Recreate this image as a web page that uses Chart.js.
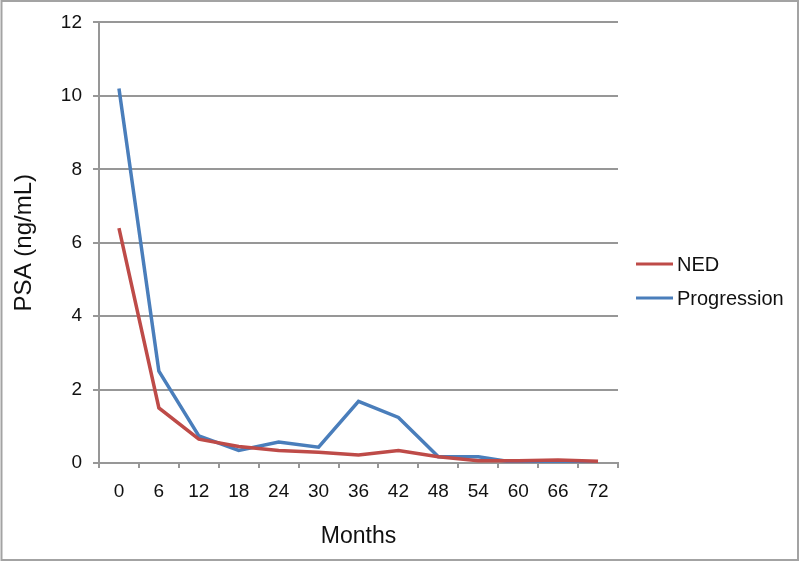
<!DOCTYPE html>
<html>
<head>
<meta charset="utf-8">
<script src="https://cdn.jsdelivr.net/npm/chart.js@4/dist/chart.umd.min.js"></script>
<style>
  html, body { margin: 0; padding: 0; background: #fff; }
  #wrap { width: 800px; height: 562px; }
</style>
</head>
<body>
<div id="wrap"><canvas id="c" width="800" height="562"></canvas></div>
<script>
const months = ['0','6','12','18','24','30','36','42','48','54','60','66','72'];
const nedValues = [6.4, 1.5, 0.65, 0.45, 0.34, 0.29, 0.22, 0.34, 0.17, 0.06, 0.06, 0.08, 0.05];
const progressionValues = [10.2, 2.5, 0.74, 0.34, 0.57, 0.43, 1.68, 1.24, 0.17, 0.17, 0, 0, 0];
const seriesNames = ['NED', 'Progression'];
const yTitle = 'PSA (ng/mL)';
const xTitle = 'Months';

const FONT = "'Liberation Sans', Arial, Helvetica, sans-serif";
Chart.defaults.font.family = FONT;
Chart.defaults.color = '#111';

const frameAndLegend = {
  id: 'frameAndLegend',
  afterDraw(chart) {
    const ctx = chart.ctx;
    ctx.save();
    ctx.strokeStyle = '#a3a3a3';
    ctx.lineWidth = 2;
    ctx.strokeRect(1.5, 1, 796.5, 559);
    const ys = [264, 298];
    ctx.font = '20px ' + FONT;
    ctx.textBaseline = 'middle';
    ctx.textAlign = 'left';
    chart.data.datasets.forEach((ds, i) => {
      ctx.strokeStyle = ds.borderColor;
      ctx.lineWidth = 3;
      ctx.beginPath();
      ctx.moveTo(636, ys[i]);
      ctx.lineTo(673, ys[i]);
      ctx.stroke();
      ctx.fillStyle = '#111';
      ctx.fillText(ds.label, 677, ys[i] + 1);
    });
    ctx.restore();
  }
};

new Chart(document.getElementById('c'), {
  type: 'line',
  data: {
    labels: months,
    datasets: [
      { label: seriesNames[0], data: nedValues, borderColor: '#be4b48', backgroundColor: '#be4b48' },
      { label: seriesNames[1], data: progressionValues, borderColor: '#4a7ebb', backgroundColor: '#4a7ebb' }
    ]
  },
  options: {
    responsive: false,
    animation: false,
    devicePixelRatio: 1,
    layout: { padding: { left: 0, top: 22, right: 182, bottom: 0 } },
    elements: {
      line: { borderWidth: 3.5, tension: 0 },
      point: { radius: 0, hoverRadius: 0 }
    },
    plugins: { legend: { display: false }, tooltip: { enabled: false } },
    scales: {
      x: {
        type: 'category',
        offset: true,
        grid: { display: true, drawOnChartArea: false, drawTicks: true, tickLength: 5, offset: true, color: '#979797', lineWidth: 2 },
        border: { display: true, color: '#979797', width: 2 },
        ticks: { font: { size: 19 }, color: '#111', padding: 12, maxRotation: 0 },
        title: { display: true, text: xTitle, font: { size: 23 }, color: '#111', padding: { top: 0, bottom: 12 } },
        afterFit(s) { s.height = 99; }
      },
      y: {
        min: 0, max: 12,
        ticks: { stepSize: 2, font: { size: 19 }, color: '#111', padding: 11 },
        grid: { color: '#979797', lineWidth: 2, drawTicks: true, tickLength: 6 },
        border: { display: true, color: '#979797', width: 2 },
        title: { display: true, text: yTitle, font: { size: 24 }, color: '#111', padding: { top: 10, bottom: 0 } },
        afterFit(s) { s.width = 99; }
      }
    }
  },
  plugins: [frameAndLegend]
});
</script>
</body>
</html>
